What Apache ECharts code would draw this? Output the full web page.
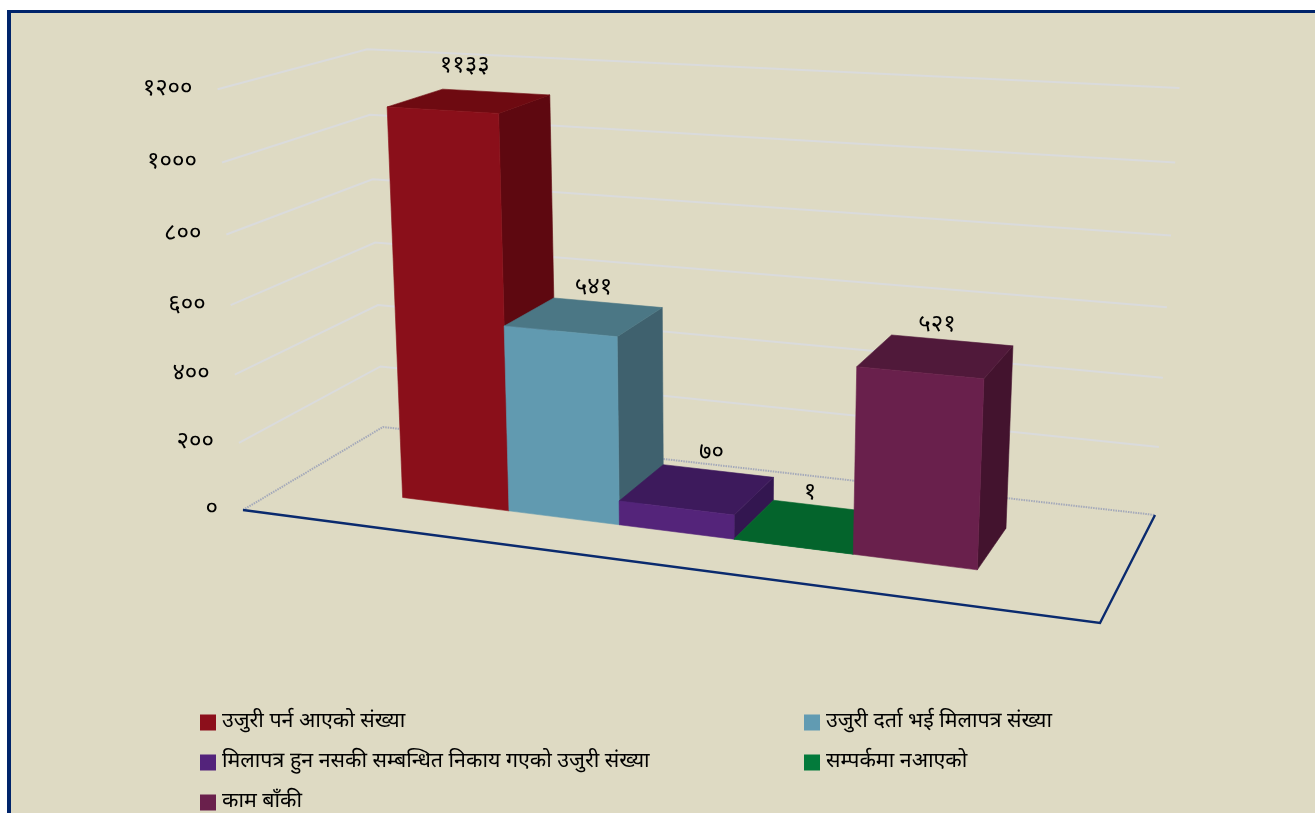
<!DOCTYPE html>
<html><head><meta charset="utf-8">
<style>
html,body{margin:0;padding:0;background:#fff;overflow:hidden;width:1315px;height:813px}
#frame{position:absolute;left:7px;top:10px;width:1400px;height:900px;background:#DEDAC3;border-left:4px solid #00246B;border-top:3px solid #00246B}
#main{position:absolute;left:0;top:0;width:1315px;height:813px}
</style>
<script src="https://cdn.jsdelivr.net/npm/echarts@6/dist/echarts.min.js"></script>
</head><body><div id="frame"></div><div id="main"></div>
<script>
const categories = ['उजुरी पर्न आएको संख्या','उजुरी दर्ता भई मिलापत्र संख्या','मिलापत्र हुन नसकी सम्बन्धित निकाय गएको उजुरी संख्या','सम्पर्कमा नआएको','काम बाँकी'];
const seriesValues = [1133, 541, 70, 1, 521];
const valueLabels = ['११३३','५४१','७०','१','५२१'];
const yTicks = [0, 200, 400, 600, 800, 1000, 1200];
const yTickLabels = ['०','२००','४००','६००','८००','१०००','१२००'];
const faceColors = ['#8A0F1A','#619AB0','#54247A','#03662E','#69204C'];
const topColors = ['#6E0A11','#4B7785','#3D1A5C','#04642C','#50193A'];
const sideColors = ['#5E0810','#3F616E','#331650','#034D22','#43132E'];
const legendColors = ['#8C0F1B','#619BB2','#53237B','#037A3B','#6A204C'];
const legendPlaces = [[200,712],[804,712],[200,752],[804,752],[200,792]];
const labelNudges = [[-5,-33],[9,-27],[14,-34],[-2,-32],[1,-30]];

const FONT = '"Noto Sans Devanagari","Lohit Devanagari","Noto Serif Devanagari",Mangal,"Noto Sans",sans-serif';

/* camera: floor corners and the top of the walls, in screen space */
const FL=[243,510], FR=[1100,623], BR=[1155,515], BL=[383,427];
const TOP_FL=[216,87], TOP_BL=[369,47], TOP_BR=[1179,93];
const U0=0.155, U1=0.849, Z0=0.30, Z1=0.704;

const hx=(()=>{
  const dx1=FR[0]-BR[0],dx2=BL[0]-BR[0],sx=FL[0]-FR[0]+BR[0]-BL[0];
  const dy1=FR[1]-BR[1],dy2=BL[1]-BR[1],sy=FL[1]-FR[1]+BR[1]-BL[1];
  const den=dx1*dy2-dx2*dy1;
  const g=(sx*dy2-dx2*sy)/den,h=(dx1*sy-sx*dy1)/den;
  return {a:FR[0]-FL[0]+g*FR[0],b:BL[0]-FL[0]+h*BL[0],c:FL[0],
          d:FR[1]-FL[1]+g*FR[1],e:BL[1]-FL[1]+h*BL[1],f:FL[1],g,h};
})();
function floorH(u,z){return [hx.a*u+hx.b*z+hx.c,hx.d*u+hx.e*z+hx.f,hx.g*u+hx.h*z+1];}
const vert=(()=>{
  const pts=[[0,0,TOP_FL],[0,1,TOP_BL],[1,1,TOP_BR]];
  const A=[[0,0,0],[0,0,0],[0,0,0]],B=[0,0,0];
  pts.forEach(([u,z,p])=>{
    const H=floorH(u,z);
    [[[1,0,-p[0]],p[0]*H[2]-H[0]],[[0,1,-p[1]],p[1]*H[2]-H[1]]].forEach(([r,v])=>{
      for(let i=0;i<3;i++){B[i]+=r[i]*v;for(let j=0;j<3;j++)A[i][j]+=r[i]*r[j];}
    });
  });
  for(let i=0;i<3;i++){
    let m=i;for(let k=i+1;k<3;k++)if(Math.abs(A[k][i])>Math.abs(A[m][i]))m=k;
    [A[i],A[m]]=[A[m],A[i]];[B[i],B[m]]=[B[m],B[i]];
    for(let k=i+1;k<3;k++){const f=A[k][i]/A[i][i];for(let j=i;j<3;j++)A[k][j]-=f*A[i][j];B[k]-=f*B[i];}
  }
  const x=[0,0,0];
  for(let i=2;i>=0;i--){let s=B[i];for(let j=i+1;j<3;j++)s-=A[i][j]*x[j];x[i]=s/A[i][i];}
  return x;
})();
function project(u,h,z){
  const H=floorH(u,z);
  const w=H[2]+h*vert[2];
  return [(H[0]+h*vert[0])/w,(H[1]+h*vert[1])/w];
}
function poly(points,fill,stroke){
  return {type:'polygon',shape:{points},style:{fill,stroke:stroke||fill,lineWidth:0.6},silent:true};
}

function renderBar(i){
  return function(params,api){
    const cs=params.coordSys;
    const c=api.coord([api.value(0),api.value(1)]);
    const bw=api.size([1,0])[0];
    const toU=x=>U0+(U1-U0)*(x-cs.x)/cs.width;
    const h=(cs.y+cs.height-c[1])/cs.height;
    const l=toU(c[0]-bw/2), r=toU(c[0]+bw/2);
    const fbl=project(l,0,Z0),fbr=project(r,0,Z0),ftl=project(l,h,Z0),ftr=project(r,h,Z0);
    const bbr=project(r,0,Z1),btl=project(l,h,Z1),btr=project(r,h,Z1);
    const center=project((l+r)/2,h,(Z0+Z1)/2);
    const n=labelNudges[i];
    return {type:'group',children:[
      poly([fbr,bbr,btr,ftr],sideColors[i]),
      poly([ftl,ftr,btr,btl],topColors[i]),
      poly([fbl,fbr,ftr,ftl],faceColors[i]),
      {type:'text',silent:true,style:{x:center[0]+n[0],y:center[1]+n[1],text:valueLabels[i],fill:'#000',
        font:'24px '+FONT,align:'center',verticalAlign:'middle'}}
    ]};
  };
}
function renderGrid(params,api){
  const cs=params.coordSys;
  const c=api.coord([0,api.value(1)]);
  const h=(cs.y+cs.height-c[1])/cs.height;
  const a=project(0,h,0),b=project(0,h,1),d=project(1,h,1);
  const idx=params.dataIndex;
  const children=[];
  if(h>0){
    children.push({type:'polyline',silent:true,shape:{points:[a,b,d]},style:{fill:null,stroke:'#DADBDC',lineWidth:2}});
  }else{
    children.push({type:'polyline',silent:true,shape:{points:[a,b,d]},style:{fill:null,stroke:'#A4A9BA',lineWidth:2,lineDash:[1.5,1]}});
    children.push({type:'polyline',silent:true,shape:{points:[a,project(1,0,0),d]},style:{fill:null,stroke:'#0A2A6E',lineWidth:2.4}});
  }
  children.push({type:'text',silent:true,style:{x:a[0]-25,y:a[1]+1,text:yTickLabels[idx],fill:'#000',
    font:'24px '+FONT,align:'right',verticalAlign:'middle'}});
  return {type:'group',children};
}

const chart=echarts.init(document.getElementById('main'),null,{renderer:'canvas'});
chart.setOption({
  animation:false,
  backgroundColor:'transparent',
  grid:{left:0,right:0,top:0,bottom:0},
  xAxis:{type:'category',data:categories,show:false},
  yAxis:{type:'value',min:0,max:1200,interval:200,show:false},
  legend:categories.map((name,i)=>({
    data:[{name,itemStyle:{color:legendColors[i]}}],
    left:legendPlaces[i][0],top:legendPlaces[i][1],
    icon:'rect',itemWidth:16,itemHeight:16,itemGap:0,selectedMode:false,padding:0,
    textStyle:{fontSize:21.4,color:'#000',fontFamily:FONT,padding:[0,0,2,1]}
  })),
  series:[
    {type:'custom',name:'grid',data:yTicks.map(t=>[0,t]),renderItem:renderGrid,clip:false,silent:true,z:1,encode:{x:0,y:1}},
    ...categories.map((name,i)=>({
      type:'custom',name,data:[[i,seriesValues[i]]],renderItem:renderBar(i),clip:false,silent:true,
      z:2+i,encode:{x:0,y:1},itemStyle:{color:legendColors[i]}
    }))
  ]
});
</script></body></html>
